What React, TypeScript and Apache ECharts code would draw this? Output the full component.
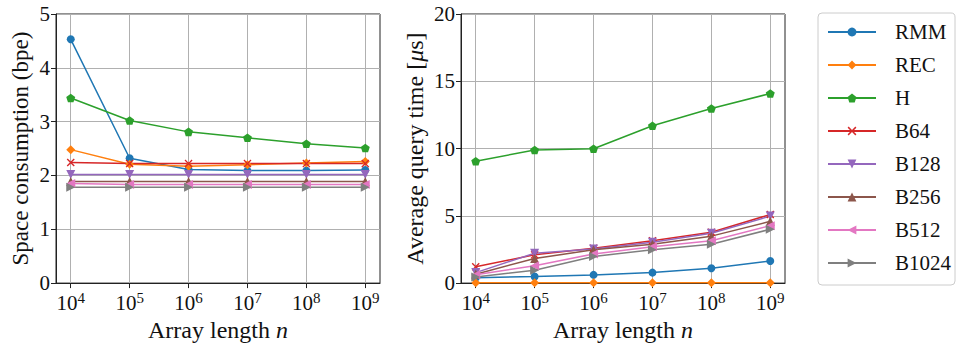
import React, { useEffect, useRef } from "react";
import * as echarts from "echarts";

const exponents = [4, 5, 6, 7, 8, 9];
const seriesNames = ["RMM", "REC", "H", "B64", "B128", "B256", "B512", "B1024"];
const colors = ["#1f77b4", "#ff7f0e", "#2ca02c", "#d62728", "#9467bd", "#8c564b", "#e377c2", "#7f7f7f"];

// Space consumption (bpe)
const spaceRMM = [4.53, 2.32, 2.11, 2.09, 2.09, 2.1];
const spaceREC = [2.48, 2.21, 2.17, 2.2, 2.23, 2.26];
const spaceH = [3.44, 3.02, 2.81, 2.7, 2.59, 2.51];
const spaceB64 = [2.24, 2.22, 2.22, 2.22, 2.22, 2.22];
const spaceB128 = [2.02, 2.02, 2.02, 2.02, 2.02, 2.02];
const spaceB256 = [1.89, 1.89, 1.89, 1.89, 1.89, 1.89];
const spaceB512 = [1.85, 1.83, 1.83, 1.83, 1.83, 1.83];
const spaceB1024 = [1.78, 1.78, 1.78, 1.78, 1.78, 1.78];

// Average query time (µs)
const timeRMM = [0.39, 0.49, 0.61, 0.78, 1.1, 1.64];
const timeREC = [0.03, 0.03, 0.03, 0.03, 0.03, 0.03];
const timeH = [9.06, 9.89, 9.99, 11.7, 12.97, 14.09];
const timeB64 = [1.22, 2.1, 2.59, 3.15, 3.78, 5.1];
const timeB128 = [0.78, 2.22, 2.54, 3.03, 3.71, 4.98];
const timeB256 = [0.66, 1.83, 2.47, 2.88, 3.49, 4.59];
const timeB512 = [0.62, 1.29, 2.17, 2.71, 3.15, 4.27];
const timeB1024 = [0.46, 0.95, 1.98, 2.47, 2.88, 4.0];

const spaceData = [spaceRMM, spaceREC, spaceH, spaceB64, spaceB128, spaceB256, spaceB512, spaceB1024];
const timeData = [timeRMM, timeREC, timeH, timeB64, timeB128, timeB256, timeB512, timeB1024];

const spaceTicks = [0, 1, 2, 3, 4, 5];
const timeTicks = [0, 5, 10, 15, 20];

const FONT = "Liberation Serif";

const pentagon = "path://M50,0L97.6,34.5L79.4,90.5L20.6,90.5L2.4,34.5Z";
const cross = "path://M0,1.2L1.2,0L5,3.8L8.8,0L10,1.2L6.2,5L10,8.8L8.8,10L5,6.2L1.2,10L0,8.8L3.8,5Z";

const markers: { symbol: string; size: number; rotate: number }[] = [
  { symbol: "circle", size: 8, rotate: 0 },
  { symbol: "diamond", size: 9, rotate: 0 },
  { symbol: pentagon, size: 9, rotate: 0 },
  { symbol: cross, size: 8, rotate: 0 },
  { symbol: "triangle", size: 9, rotate: 180 },
  { symbol: "triangle", size: 9, rotate: 0 },
  { symbol: "triangle", size: 9, rotate: 90 },
  { symbol: "triangle", size: 9, rotate: -90 },
];

export default function App() {
  const ref = useRef<HTMLDivElement>(null);
  useEffect(() => {
    document.body.style.margin = "0";
    if (!ref.current) return;
    const chart = echarts.init(ref.current, undefined, { renderer: "svg" });

    const txt = (size: number, extra: any = {}) => ({
      fontFamily: FONT,
      fontSize: size,
      color: "#111",
      ...extra,
    });

    const xAxisBase = (gridIndex: number) => ({
      type: "value",
      gridIndex,
      min: 3.75,
      max: 9.25,
      name: "Array length {i|n}",
      nameLocation: "middle",
      nameGap: 34,
      nameTextStyle: {
        ...txt(24),
        rich: { i: txt(24, { fontStyle: "italic" }) },
      },
      axisLine: { show: true, lineStyle: { color: "#222", width: 1 } },
      axisTick: { show: true, length: 5, lineStyle: { color: "#222" }, customValues: exponents },
      splitLine: { show: true, lineStyle: { color: "#b0b0b0", width: 1 } },
      axisLabel: {
        ...txt(21),
        customValues: exponents,
        margin: 7,
        formatter: (v: number) => `{b|10}{s|${v}}`,
        rich: {
          b: txt(21, { verticalAlign: "bottom" }),
          s: txt(15, { verticalAlign: "bottom", padding: [0, 0, 8, 0] }),
        },
      },
    });

    const yAxisBase = (gridIndex: number, max: number, interval: number, name: string, nameGap: number, nameSize: number) => ({
      type: "value",
      gridIndex,
      min: 0,
      max,
      interval,
      name,
      nameLocation: "middle",
      nameGap,
      nameTextStyle: {
        ...txt(nameSize),
        rich: { i: txt(nameSize, { fontStyle: "italic" }) },
      },
      axisLine: { show: true, lineStyle: { color: "#222", width: 1 } },
      axisTick: { show: true, length: 5, lineStyle: { color: "#222" } },
      splitLine: { show: true, lineStyle: { color: "#b0b0b0", width: 1 } },
      axisLabel: { ...txt(21), margin: 6 },
    });

    const series: any[] = [];
    seriesNames.forEach((name, i) => {
      const m = markers[i];
      const common = {
        name,
        type: "line",
        symbol: m.symbol,
        symbolSize: m.size,
        symbolRotate: m.rotate,
        symbolKeepAspect: true,
        showAllSymbol: true,
        color: colors[i],
        lineStyle: { width: 1.5, color: colors[i] },
        itemStyle: { color: colors[i] },
        clip: true,
      };
      series.push({
        ...common,
        xAxisIndex: 0,
        yAxisIndex: 0,
        data: exponents.map((e, k) => [e, spaceData[i][k]]),
      });
      series.push({
        ...common,
        xAxisIndex: 1,
        yAxisIndex: 1,
        data: exponents.map((e, k) => [e, timeData[i][k]]),
      });
    });

    chart.setOption({
      animation: false,
      backgroundColor: "#fff",
      grid: [
        { left: 56, top: 14, width: 324, height: 273, show: true, borderColor: "#222", borderWidth: 1, containLabel: false },
        { left: 461, top: 14, width: 324, height: 273, show: true, borderColor: "#222", borderWidth: 1, containLabel: false },
      ],
      xAxis: [xAxisBase(0), xAxisBase(1)],
      yAxis: [
        { ...yAxisBase(0, spaceTicks[spaceTicks.length - 1], 1, "Space consumption (bpe)", 24, 23) },
        { ...yAxisBase(1, timeTicks[timeTicks.length - 1], 5, "Average query time [{i|\u03bc}s]", 34, 24) },
      ],
      legend: {
        data: seriesNames,
        orient: "vertical",
        left: 818,
        top: 13,
        padding: [8, 4, 11, 9],
        itemWidth: 48,
        itemHeight: 11,
        itemGap: 11,
        borderColor: "#cccccc",
        borderWidth: 1,
        borderRadius: 4,
        backgroundColor: "#fff",
        textStyle: { ...txt(21), lineHeight: 22, padding: [0, 0, 0, 14] },
      },
      series,
    });
    return () => chart.dispose();
  }, []);
  return <div ref={ref} style={{ width: 957, height: 347 }} />;
}
